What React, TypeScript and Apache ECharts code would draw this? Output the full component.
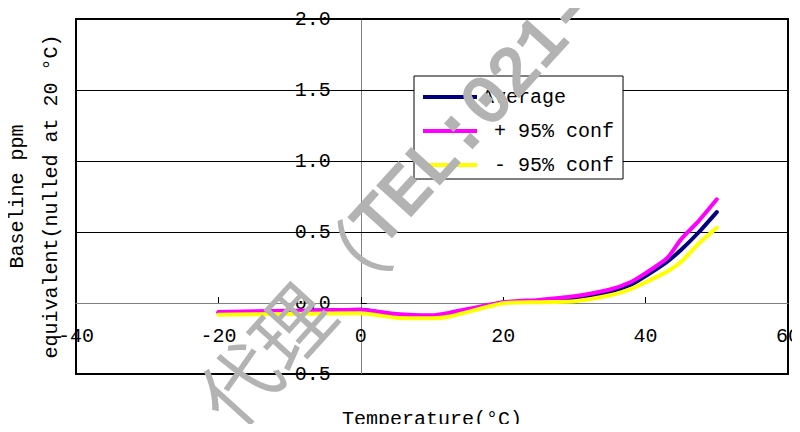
import React, { useEffect, useRef } from "react";
import * as echarts from "echarts";

const temps = [-20, -10, 0, 5, 10, 12.5, 20, 25, 30, 35, 38, 40, 43, 45, 47.5, 50];
const averageValues = [-0.069, -0.058, -0.048, -0.085, -0.095, -0.08, 0.003, 0.015, 0.033, 0.078, 0.13, 0.19, 0.29, 0.375, 0.5, 0.64];
const plusValues = [-0.063, -0.055, -0.047, -0.078, -0.087, -0.068, 0.005, 0.022, 0.047, 0.095, 0.15, 0.21, 0.315, 0.45, 0.58, 0.73];
const minusValues = [-0.082, -0.077, -0.073, -0.104, -0.108, -0.095, -0.002, 0.006, 0.013, 0.055, 0.1, 0.146, 0.22, 0.29, 0.42, 0.53];
const seriesNames = ["Average", " + 95% conf", " - 95% conf"];
const seriesColors = ["#000080", "#ff00ff", "#ffff00"];
const xTicks = { min: -40, max: 60, interval: 20 };
const yTicks = { min: -0.5, max: 2.0, interval: 0.5 };

const FONT = "'Liberation Mono', 'DejaVu Sans Mono', monospace";
const W = 800;
const H = 432;
const GRID = { left: 76, right: 12, top: 19, bottom: 58 };

export default function App() {
  const ref = useRef<HTMLDivElement>(null);
  useEffect(() => {
    if (!ref.current) return;
    const chart = echarts.init(ref.current, null, { renderer: "svg" });
    const valueSets = [averageValues, plusValues, minusValues];
    const gridW = W - GRID.left - GRID.right;
    const gridH = H - GRID.top - GRID.bottom;
    // place the axes where the other axis is zero (crossing axes)
    const yAxisOffset = -gridW * (0 - xTicks.min) / (xTicks.max - xTicks.min);
    const xAxisOffset = -gridH * (0 - yTicks.min) / (yTicks.max - yTicks.min);
    chart.setOption({
      animation: false,
      backgroundColor: "#fff",
      grid: {
        ...GRID,
        containLabel: false,
        outerBoundsMode: "none",
        show: true,
        borderColor: "#000",
        borderWidth: 2,
        backgroundColor: "transparent",
      },
      legend: {
        orient: "vertical",
        left: 414,
        top: 76,
        backgroundColor: "#fff",
        borderColor: "#000",
        borderWidth: 1,
        borderRadius: 0,
        padding: [11, 9, 4, 9],
        itemGap: 14,
        itemWidth: 54,
        itemHeight: 4,
        icon: "rect",
        textStyle: { fontSize: 20, lineHeight: 20, fontFamily: FONT, color: "#000" },
        data: seriesNames,
      },
      xAxis: {
        type: "value",
        min: xTicks.min,
        max: xTicks.max,
        interval: xTicks.interval,
        offset: xAxisOffset,
        name: "Temperature(°C)",
        nameLocation: "middle",
        nameGap: 106,
        nameTextStyle: { fontSize: 20, fontFamily: FONT, color: "#000" },
        axisLine: { onZero: false, lineStyle: { color: "#808080", width: 1 } },
        axisTick: { show: true, inside: true, length: 6, lineStyle: { color: "#000" } },
        axisLabel: { margin: 23, fontSize: 20, fontFamily: FONT, color: "#000" },
        splitLine: { show: false },
      },
      yAxis: {
        type: "value",
        min: yTicks.min,
        max: yTicks.max,
        interval: yTicks.interval,
        offset: yAxisOffset,
        name: "Baseline ppm\nequivalent(nulled at 20 °C)",
        nameLocation: "middle",
        nameGap: 292,
        nameRotate: 90,
        nameTextStyle: { fontSize: 20, fontFamily: FONT, color: "#000", lineHeight: 34 },
        axisLine: { onZero: false, lineStyle: { color: "#808080", width: 1 } },
        axisTick: { show: true, inside: true, length: 6, lineStyle: { color: "#000" } },
        axisLabel: {
          margin: 30,
          fontSize: 20,
          fontFamily: FONT,
          color: "#000",
          formatter: (v: number) => v.toFixed(1),
        },
        splitLine: { show: true, lineStyle: { color: "#000", width: 1 } },
      },
      series: seriesNames.map((name, i) => ({
        name,
        type: "line",
        data: temps.map((t, j) => [t, valueSets[i][j]]),
        symbol: "none",
        smooth: 0.2,
        lineStyle: { color: seriesColors[i], width: 4, cap: "round", join: "round" },
        itemStyle: { color: seriesColors[i] },
      })),
      graphic: [
        {
          type: "text",
          x: 210,
          y: 410,
          rotation: 0.834,
          z: 100,
          silent: true,
          style: {
            text: "{c|代理（}{l|TEL:021-5}",
            fill: "#b3b3b3",
            align: "left",
            verticalAlign: "middle",
            rich: {
              c: {
                fontSize: 78,
                fontFamily: "'Noto Sans CJK SC', sans-serif",
                fill: "#b3b3b3",
                verticalAlign: "middle",
              },
              l: {
                fontSize: 67,
                fontFamily: "'Liberation Mono', monospace",
                fill: "#b3b3b3",
                stroke: "#b3b3b3",
                lineWidth: 3,
                verticalAlign: "middle",
              },
            },
          },
        },
      ],
    });
    return () => chart.dispose();
  }, []);
  return <div ref={ref} style={{ width: W, height: H, margin: -8 }} />;
}
